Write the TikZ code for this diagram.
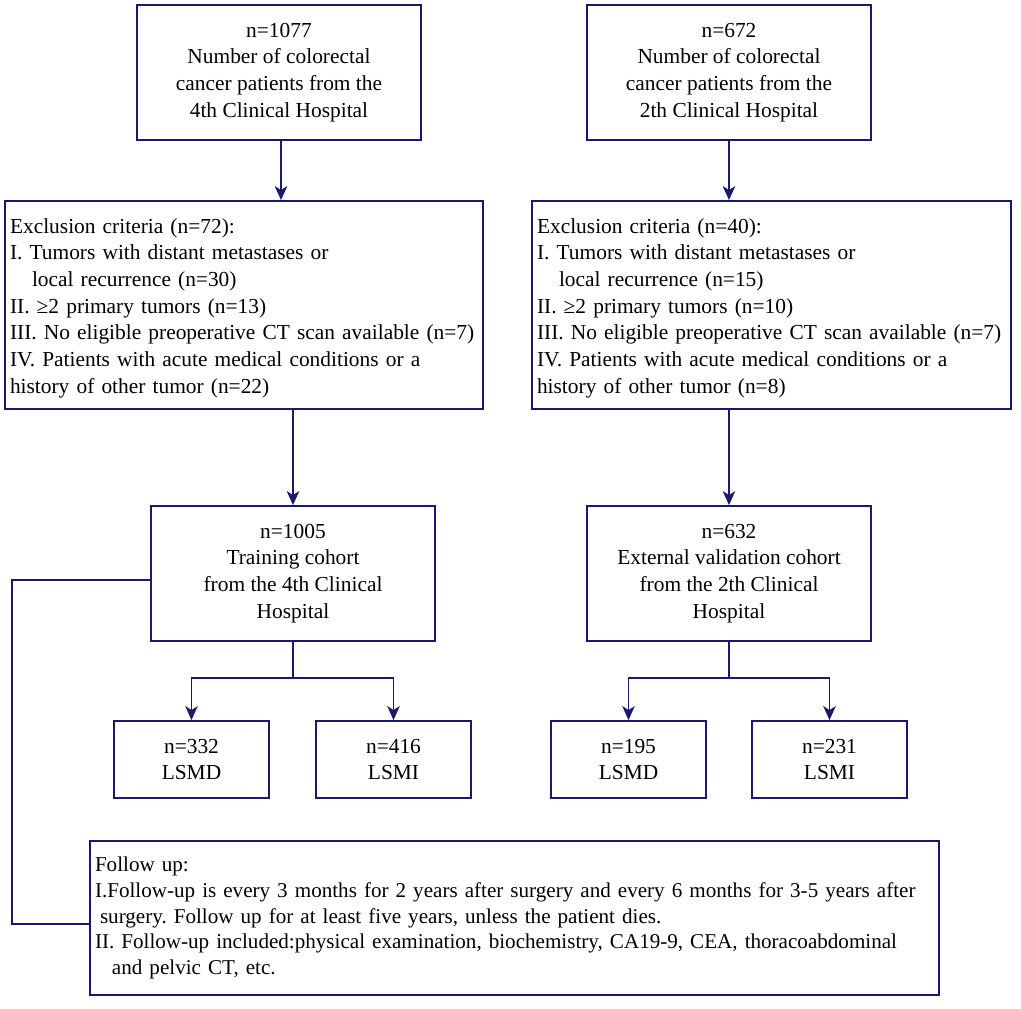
\documentclass[tikz,border=0pt]{standalone}
\usepackage{fontspec}
\setmainfont{Liberation Serif}
\usetikzlibrary{arrows.meta}
\definecolor{navy}{RGB}{25,25,112}
\newcommand{\fs}{\fontsize{21.4}{26.7}\selectfont\frenchspacing}
\newcommand{\fsb}{\fontsize{21.1}{25.6}\selectfont\frenchspacing}
\tikzset{
  box/.style={draw=navy, line width=1.8pt, inner sep=0pt, align=center, font=\fs},
  textbox/.style={draw=navy, line width=1.8pt, inner xsep=5pt, inner ysep=0pt, align=left, font=\fs},
  conn/.style={draw=navy, line width=1.8pt},
  arr/.style={conn, -{Stealth[length=14pt,width=12.5pt,inset=4pt]}}
}
\begin{document}
\begin{tikzpicture}[x=1pt,y=-1pt]
\useasboundingbox (0,0) rectangle (1021,1009);
\node[box, minimum width=284pt, minimum height=135pt] (n1) at (279,72.5)
  {n=1077\\Number of colorectal\\cancer patients from the\\4th Clinical Hospital};
\node[box, minimum width=284pt, minimum height=135pt] (n2) at (729,72.5)
  {n=672\\Number of colorectal\\cancer patients from the\\2th Clinical Hospital};
\node[textbox, text width=468pt, minimum height=208pt] (ex1) at (244,305)
  {\mbox{\rule{0pt}{21pt}Exclusion criteria (n=72):}\\
   \mbox{I. Tumors with distant metastases or}\\
   \mbox{\hspace*{22pt}local recurrence (n=30)}\\
   \mbox{II. ≥2 primary tumors (n=13)}\\
   \mbox{III. No eligible preoperative CT scan available (n=7)}\\
   \mbox{IV. Patients with acute medical conditions or a}\\
   \mbox{history of other tumor (n=22)}};
\node[textbox, text width=469pt, minimum height=208pt] (ex2) at (771.5,305)
  {\mbox{\rule{0pt}{21pt}Exclusion criteria (n=40):}\\
   \mbox{I. Tumors with distant metastases or}\\
   \mbox{\hspace*{22pt}local recurrence (n=15)}\\
   \mbox{II. ≥2 primary tumors (n=10)}\\
   \mbox{III. No eligible preoperative CT scan available (n=7)}\\
   \mbox{IV. Patients with acute medical conditions or a}\\
   \mbox{history of other tumor (n=8)}};
\node[box, minimum width=284pt, minimum height=135pt] (tr) at (293,573.5)
  {n=1005\\Training cohort\\from the 4th Clinical\\Hospital};
\node[box, minimum width=284pt, minimum height=135pt] (ext) at (729,573.5)
  {n=632\\External validation cohort\\from the 2th Clinical\\Hospital};
\node[box, minimum width=155pt, minimum height=77pt] (a1) at (191.5,759.5) {n=332\\LSMD};
\node[box, minimum width=155pt, minimum height=77pt] (a2) at (393.5,759.5) {n=416\\LSMI};
\node[box, minimum width=155pt, minimum height=77pt] (b1) at (628.5,759.5) {n=195\\LSMD};
\node[box, minimum width=155pt, minimum height=77pt] (b2) at (829.5,759.5) {n=231\\LSMI};
\node[textbox, font=\fsb, text width=839pt, minimum height=154pt] (fu) at (514.5,918)
  {\mbox{Follow up:}\\
   \mbox{I.Follow-up is every 3 months for 2 years after surgery and every 6 months for 3-5 years after}\\
   \mbox{\hspace*{5pt}surgery. Follow up for at least five years, unless the patient dies.}\\
   \mbox{II. Follow-up included:physical examination, biochemistry, CA19-9, CEA, thoracoabdominal}\\
   \mbox{\hspace*{17pt}and pelvic CT, etc.}};
% connectors
\draw[arr] (n1.south -| 281,0) -- (ex1.north -| 281,0);
\draw[arr] (n2.south) -- (n2.south |- ex2.north);
\draw[arr] (tr.north |- ex1.south) -- (tr.north);
\draw[arr] (ext.north |- ex2.south) -- (ext.north);
\coordinate (j1) at (293,678);
\coordinate (j2) at (729,678);
\draw[conn] (tr.south) -- (j1);
\draw[arr] (j1) -| (a1.north);
\draw[arr] (j1) -| (a2.north);
\draw[conn] (ext.south) -- (j2);
\draw[arr] (j2) -| (b1.north);
\draw[arr] (j2) -| (b2.north);
\coordinate (c1) at (12,580);
\coordinate (c2) at (12,924);
\draw[conn] (tr.west |- c1) -- (c1) -- (c2) -- (fu.west |- c2);
\end{tikzpicture}
\end{document}
